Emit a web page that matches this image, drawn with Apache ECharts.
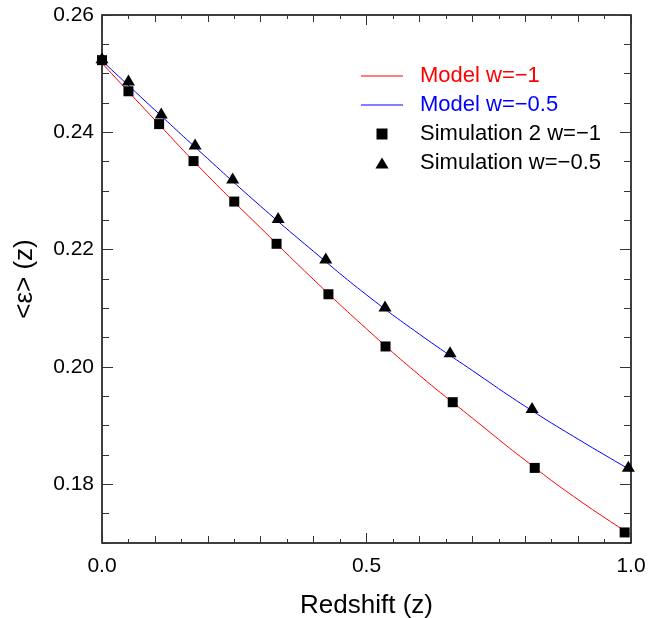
<!DOCTYPE html>
<html>
<head>
<meta charset="utf-8">
<script src="https://cdn.jsdelivr.net/npm/echarts@6/dist/echarts.min.js"></script>
<style>
html,body{margin:0;padding:0;background:#fff;}
#chart{width:652px;height:618px;}
</style>
</head>
<body>
<div id="chart"></div>
<script>
// Model curves
const modelZ = [0.0, 0.1, 0.2, 0.3, 0.4, 0.5, 0.6, 0.7, 0.8, 0.9, 1.0];
const modelW1 = [0.2518, 0.2421, 0.2326, 0.2237, 0.2149, 0.2065, 0.1986, 0.1913, 0.1841, 0.1774, 0.1714];
const modelW05 = [0.2522, 0.2438, 0.2355, 0.2274, 0.2197, 0.2123, 0.2056, 0.1994, 0.1933, 0.1877, 0.1824];
// Simulation points
const simZw1 = [0.0, 0.05, 0.108, 0.173, 0.25, 0.33, 0.428, 0.536, 0.663, 0.818, 0.988];
const simEw1 = [0.2523, 0.2470, 0.2414, 0.2351, 0.2282, 0.2210, 0.2124, 0.2035, 0.1940, 0.1828, 0.1718];
const simZw05 = [0.0, 0.05, 0.112, 0.176, 0.247, 0.333, 0.423, 0.535, 0.658, 0.813, 0.995];
const simEw05 = [0.2527, 0.2489, 0.2433, 0.2380, 0.2322, 0.2255, 0.2186, 0.2104, 0.2026, 0.1931, 0.1831];
// Tick labels
const xLabels = [0.0, 0.5, 1.0];
const xMid = [0.1, 0.2, 0.3, 0.4, 0.6, 0.7, 0.8, 0.9];
const yLabels = [0.18, 0.20, 0.22, 0.24, 0.26];
const names = ['Model w=\u22121', 'Model w=\u22120.5', 'Simulation 2 w=\u22121', 'Simulation w=\u22120.5'];

const FONT = 'Liberation Sans';
const zip = (a, b) => a.map((v, i) => [v, b[i]]);
const tickStyle = { color: '#333', width: 1 };

function xAx(pos, opts) {
  return Object.assign({
    type: 'value', position: pos, min: 0, max: 1, interval: 0.05,
    axisLine: { show: false, onZero: false }, splitLine: { show: false },
    axisTick: { show: true, inside: true, length: 4, lineStyle: tickStyle },
    axisLabel: { show: false }
  }, opts);
}
function yAx(pos, opts) {
  return Object.assign({
    type: 'value', position: pos, min: 0.17, max: 0.26, interval: 0.005,
    axisLine: { show: false, onZero: false }, splitLine: { show: false },
    axisTick: { show: true, inside: true, length: 7, lineStyle: tickStyle },
    axisLabel: { show: false }
  }, opts);
}

const chart = echarts.init(document.getElementById('chart'), null, { renderer: 'canvas' });
chart.setOption({
  animation: false,
  backgroundColor: '#fff',
  grid: { left: 102, right: 21, top: 15, bottom: 75, outerBoundsMode: 'none', containLabel: false,
    show: true, borderColor: '#000', borderWidth: 1.5, backgroundColor: 'transparent' },
  xAxis: [
    xAx('bottom', {
      name: 'Redshift (z)', nameLocation: 'middle', nameGap: 50,
      nameTextStyle: { fontFamily: FONT, fontSize: 26, color: '#000' },
      axisLabel: { show: true, customValues: xLabels, margin: 13, fontFamily: FONT, fontSize: 21, color: '#000', formatter: v => v.toFixed(1) }
    }),
    xAx('bottom', { axisTick: { show: true, inside: true, length: 7, customValues: xMid, lineStyle: tickStyle } }),
    xAx('bottom', { axisTick: { show: true, inside: true, length: 10, customValues: xLabels, lineStyle: tickStyle } }),
    xAx('top', {}),
    xAx('top', { axisTick: { show: true, inside: true, length: 7, customValues: xMid, lineStyle: tickStyle } }),
    xAx('top', { axisTick: { show: true, inside: true, length: 10, customValues: xLabels, lineStyle: tickStyle } })
  ],
  yAxis: [
    yAx('left', {
      name: '<\u03b5> (z)', nameLocation: 'middle', nameGap: 64, nameRotate: 90,
      nameTextStyle: { fontFamily: FONT, fontSize: 26, color: '#000' },
      axisLabel: { show: true, customValues: yLabels, margin: 8, fontFamily: FONT, fontSize: 21, color: '#000', formatter: v => v.toFixed(2) }
    }),
    yAx('left', { axisTick: { show: true, inside: true, length: 11, customValues: yLabels, lineStyle: tickStyle } }),
    yAx('right', {}),
    yAx('right', { axisTick: { show: true, inside: true, length: 11, customValues: yLabels, lineStyle: tickStyle } })
  ],
  legend: {
    orient: 'vertical', left: 356, top: 60, itemWidth: 42, itemHeight: 11, itemGap: 7,
    textStyle: { fontFamily: FONT, fontSize: 22, lineHeight: 22, padding: [0, 0, 0, 12] },
    data: [
      { name: names[0], icon: 'path://M0,0h42v1h-42z', textStyle: { color: '#ff0000' } },
      { name: names[1], icon: 'path://M0,0h42v1h-42z', textStyle: { color: '#0000ff' } },
      { name: names[2], icon: 'path://M0,0h10v10h-10z', textStyle: { color: '#000' } },
      { name: names[3], icon: 'path://M6,0L12,10L0,10z', textStyle: { color: '#000' } }
    ]
  },
  series: [
    { name: names[0], type: 'line', smooth: true, symbol: 'none', data: zip(modelZ, modelW1),
      lineStyle: { color: '#ff0000', width: 1 }, itemStyle: { color: '#ff0000' } },
    { name: names[1], type: 'line', smooth: true, symbol: 'none', data: zip(modelZ, modelW05),
      lineStyle: { color: '#0000ff', width: 1 }, itemStyle: { color: '#0000ff' } },
    { name: names[2], type: 'scatter', symbol: 'rect', symbolSize: 10, clip: false, data: zip(simZw1, simEw1),
      itemStyle: { color: '#000', opacity: 1 }, z: 5 },
    { name: names[3], type: 'scatter', symbol: 'triangle', symbolSize: [13, 11], clip: false, data: zip(simZw05, simEw05),
      itemStyle: { color: '#000', opacity: 1 }, z: 5 }
  ]
});
</script>
</body>
</html>
